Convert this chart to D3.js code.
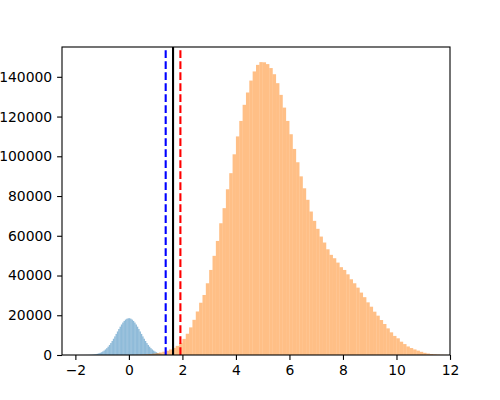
<!DOCTYPE html>
<html>
<head>
<meta charset="utf-8">
<script src="https://cdn.jsdelivr.net/npm/d3@7"></script>
<style>
  body { margin: 0; background: #fff; }
  text { font-family: "DejaVu Sans", sans-serif; font-size: 13.9px; fill: #000; }
</style>
</head>
<body>
<div id="chart"></div>
<script>
// histogram counts
const blueStart = -1.8, blueWidth = 0.05;
const blueCounts = [8, 12, 18, 28, 40, 60, 85, 120, 170, 240, 335, 455, 610, 810, 1070, 1380, 1770, 2240,
  2800, 3450, 4200, 5050, 6010, 7050, 8180, 9370, 10600, 11840, 13070, 14250, 15350, 16330, 17150, 17800, 18240, 18470,
  18520, 18260, 17800, 17150, 16330, 15350, 14250, 13070, 11840, 10600, 9370, 8180, 7050, 6010, 5050, 4200, 3450, 2800,
  2240, 1770, 1380, 1070, 810, 610, 455, 335, 240, 170, 120, 85, 60, 40, 28, 18, 12, 8];

const orangeStart = 0, orangeWidth = 0.125;
const orangeCounts = [30, 60, 100, 160, 250, 350, 500, 700, 950, 1250, 1650, 2150, 2800, 3600, 4600,
  6100, 8100, 10700, 13900, 17700, 21900, 26300,
  30200, 36100, 42800, 49900, 57400, 66300, 73900, 83400, 91500, 101000, 110000, 117800, 125900, 132100, 138100, 142700, 146000,
  147400, 147300, 146400, 144400, 141300, 136800, 130900, 124500, 117800, 111100, 103700, 97000,
  89900, 83900, 78100, 72200, 67500, 63500, 59600, 56600, 53200, 50400, 48700, 46500, 44200, 42800, 40600,
  38100, 36100, 33900, 31400, 29100, 26500, 24300, 21800, 19800, 17600, 15600, 13400, 11400, 9600, 8400,
  6700, 5500, 4300, 3500, 2800, 2200, 1600, 1100, 750, 500, 350, 230, 140, 80, 40];

// vertical marker lines
const markers = [
  { value: 1.375, color: 'blue', dashed: true },
  { value: 1.65, color: 'black', dashed: false },
  { value: 1.925, color: 'red', dashed: true }
];

const xTicks = [-2, 0, 2, 4, 6, 8, 10, 12];
const yTicks = [0, 20000, 40000, 60000, 80000, 100000, 120000, 140000];

const width = 500, height = 400;
const plotLeft = 62, plotRight = 450, plotTop = 47, plotBottom = 355;

const x = d3.scaleLinear().domain([-2.5, 12]).range([plotLeft, plotRight]);
const y = d3.scaleLinear().domain([0, 155000]).range([plotBottom, plotTop]);

const svg = d3.select('#chart').append('svg')
  .attr('width', width)
  .attr('height', height);
svg.append('rect').attr('width', width).attr('height', height).attr('fill', '#fff');

function drawHist(counts, start, w, color) {
  svg.append('g').selectAll('rect')
    .data(counts)
    .join('rect')
    .attr('x', (d, i) => x(start + i * w))
    .attr('width', (d, i) => x(start + (i + 1) * w) - x(start + i * w))
    .attr('y', d => y(d))
    .attr('height', d => y(0) - y(d))
    .attr('fill', color)
    .attr('fill-opacity', 0.5);
}

drawHist(blueCounts, blueStart, blueWidth, '#1f77b4');
drawHist(orangeCounts, orangeStart, orangeWidth, '#ff7f0e');

markers.forEach(m => {
  svg.append('line')
    .attr('x1', x(m.value)).attr('x2', x(m.value))
    .attr('y1', plotBottom).attr('y2', plotTop)
    .attr('stroke', m.color)
    .attr('stroke-width', 2.1)
    .attr('stroke-dasharray', m.dashed ? '7.7,3.3' : null);
});

// axes
const xAxis = d3.axisBottom(x).tickValues(xTicks).tickSize(4.9).tickPadding(4.9).tickFormat(d3.format('d'));
const yAxis = d3.axisLeft(y).tickValues(yTicks).tickSize(4.9).tickPadding(4.9).tickFormat(d3.format('d'));

const gx = svg.append('g').attr('transform', 'translate(0,' + plotBottom + ')').call(xAxis);
const gy = svg.append('g').attr('transform', 'translate(' + plotLeft + ',0)').call(yAxis);
[gx, gy].forEach(g => {
  g.select('.domain').remove();
  g.selectAll('line').attr('stroke', '#000').attr('stroke-width', 1.1);
  g.selectAll('text').attr('font-size', '13.9px').attr('font-family', '"DejaVu Sans", sans-serif').attr('fill', '#000');
});

// frame
svg.append('rect')
  .attr('x', plotLeft).attr('y', plotTop)
  .attr('width', plotRight - plotLeft).attr('height', plotBottom - plotTop)
  .attr('fill', 'none')
  .attr('stroke', '#000')
  .attr('stroke-width', 1.1);
</script>
</body>
</html>
